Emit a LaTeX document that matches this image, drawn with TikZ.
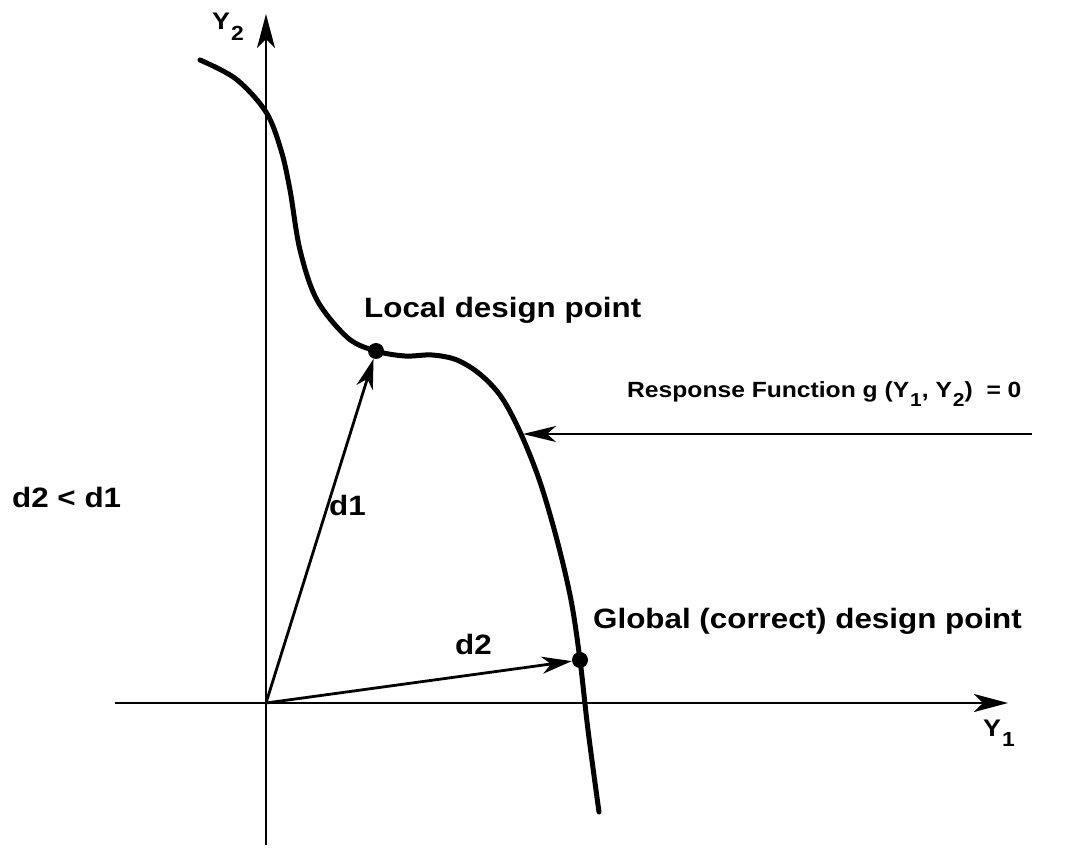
\documentclass[tikz,border=0pt]{standalone}
\usepackage{graphicx}
\usepackage{fontspec}
\setmainfont{Liberation Sans}[FakeStretch=1.12]
\usetikzlibrary{arrows.meta}
\newcommand{\lowsub}[1]{\kern1pt\raisebox{-0.42em}{\scalebox{0.85}{#1}}}
\begin{document}
\begin{tikzpicture}[x=1pt,y=-1pt,
  axis/.style={line width=1.8pt, -{Stealth[length=34pt,width=18pt,inset=9pt]}},
  curve/.style={line width=5pt, line cap=round},
  vec/.style={line width=2.8pt, -{Stealth[length=30pt,width=17pt,inset=9pt]}},
  pointer/.style={line width=2pt, -{Stealth[length=33pt,width=16pt,inset=9pt]}},
  dot/.style={circle, fill=black, inner sep=0pt, minimum size=16pt},
  lbl/.style={font=\fontsize{28}{30}\selectfont\bfseries, inner sep=0pt},
  axlbl/.style={font=\fontsize{24}{26}\selectfont\bfseries, inner sep=0pt},
  smalllbl/.style={font=\fontsize{22}{24}\selectfont\bfseries, inner sep=0pt}]
\useasboundingbox (0,0) rectangle (1077,848);
% axes
\coordinate (O) at (266,703);
\coordinate (ybot) at (266,845);
\coordinate (ytop) at (266,14);
\coordinate (xleft) at (115,703);
\coordinate (xright) at (1008,703);
\draw[axis] (ybot) -- (ytop);
\draw[axis] (xleft) -- (xright);
% limit state curve
\draw[curve] plot[smooth, tension=0.55] coordinates {
  (200,60) (236,79) (266,112) (281,150) (290,190) (300,250) (317,300)
  (348,338) (376,351) (405,356) (432,355) (457,360) (481,375) (502,398)
  (521,434) (540,482) (557,540) (571,600) (580,660) (588,730) (599,812)};
% design points
\node[dot] (L) at (376,351) {};
\node[dot] (G) at (580,660) {};
% distance vectors
\draw[vec] (O) -- (L);
\draw[vec] (O) -- (G);
% response function pointer
\coordinate (rstart) at (1032,434);
\coordinate (rtip) at (523,434);
\draw[pointer] (rstart) -- (rtip);
% labels
\node[axlbl, anchor=base west] (ly2) at (212,30) {Y\lowsub{2}};
\node[axlbl, anchor=base west] (ly1) at (983,736) {Y\lowsub{1}};
\node[lbl, anchor=base west] (lloc) at (364,317) {Local design point};
\node[lbl, anchor=base west] (lglob) at (593,628) {Global (correct) design point};
\node[lbl, anchor=base west] (lcmp) at (12,507) {d2 < d1};
\node[lbl, anchor=base east] (ld1) at (366,515) {d1};
\node[lbl, anchor=base west] (ld2) at (455,654) {d2};
\node[smalllbl, anchor=base west] (lresp) at (627,397) {Response Function g (Y\lowsub{1}, Y\lowsub{2})~~= 0};
\end{tikzpicture}
\end{document}
